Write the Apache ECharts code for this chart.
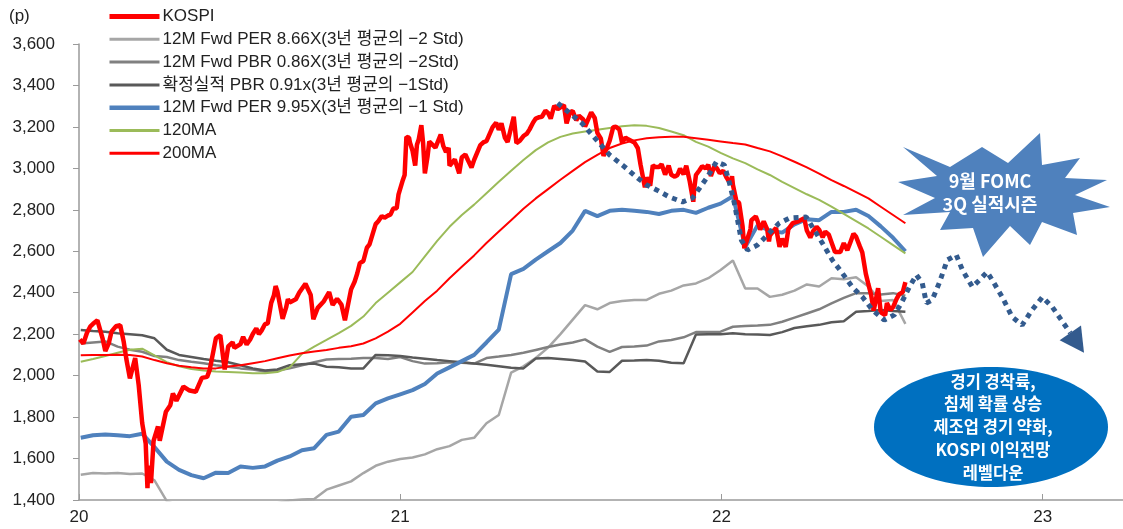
<!DOCTYPE html>
<html><head><meta charset="utf-8">
<script src="https://cdn.jsdelivr.net/npm/echarts@6/dist/echarts.min.js"></script>
<style>html,body{margin:0;padding:0;background:#fff}#c{width:1123px;height:529px}</style>
</head><body><div id="c"></div>
<script>
// ---- x-axis ticks
const xTickYears = [2020, 2021, 2022, 2023];
const xTickLabels = ['20', '21', '22', '23'];
// ---- KOSPI (dates / values)
const kospiDates = [
'2020-01-02','2020-01-06','2020-01-10','2020-01-14','2020-01-17','2020-01-22','2020-01-28','2020-01-31','2020-02-04','2020-02-07','2020-02-12','2020-02-17','2020-02-21','2020-02-24','2020-02-28','2020-03-05','2020-03-09','2020-03-13','2020-03-17','2020-03-19','2020-03-20','2020-03-23','2020-03-26','2020-03-31','2020-04-02','2020-04-09','2020-04-14','2020-04-17','2020-04-21','2020-04-29','2020-05-06','2020-05-13','2020-05-20','2020-05-26','2020-05-29','2020-06-05','2020-06-10','2020-06-15','2020-06-19','2020-06-24','2020-06-26','2020-07-03','2020-07-06','2020-07-10','2020-07-14','2020-07-17','2020-07-21','2020-07-24','2020-07-27','2020-07-31','2020-08-03','2020-08-07','2020-08-10','2020-08-12','2020-08-14','2020-08-20','2020-08-24','2020-08-26','2020-08-28','2020-09-04','2020-09-08','2020-09-15','2020-09-21','2020-09-24','2020-09-29','2020-10-06','2020-10-12','2020-10-16','2020-10-21','2020-10-23','2020-10-26','2020-10-30','2020-11-06','2020-11-10','2020-11-13','2020-11-16','2020-11-20','2020-11-24','2020-11-27','2020-12-04','2020-12-07','2020-12-11','2020-12-14','2020-12-18','2020-12-21','2020-12-24','2020-12-28','2020-12-30',
'2021-01-04','2021-01-06','2021-01-08','2021-01-11','2021-01-12','2021-01-15','2021-01-18','2021-01-20','2021-01-22','2021-01-25','2021-01-27','2021-01-29','2021-02-01','2021-02-03','2021-02-05','2021-02-10','2021-02-16','2021-02-19','2021-02-22','2021-02-25','2021-02-26','2021-03-04','2021-03-09','2021-03-12','2021-03-16','2021-03-19','2021-03-23','2021-03-26','2021-04-02','2021-04-06','2021-04-09','2021-04-16','2021-04-20','2021-04-23','2021-04-26','2021-04-30','2021-05-03','2021-05-07','2021-05-10','2021-05-13','2021-05-17','2021-05-21','2021-05-25','2021-05-28','2021-06-01','2021-06-04','2021-06-08','2021-06-11','2021-06-15','2021-06-18','2021-06-21','2021-06-25','2021-06-29','2021-07-06','2021-07-09','2021-07-13','2021-07-16','2021-07-20','2021-07-23','2021-07-28','2021-07-30','2021-08-06','2021-08-10','2021-08-13','2021-08-17','2021-08-20','2021-08-23','2021-08-27','2021-08-31','2021-09-03','2021-09-07','2021-09-10','2021-09-14','2021-09-17','2021-09-24','2021-09-28','2021-10-01','2021-10-06','2021-10-08','2021-10-12','2021-10-15','2021-10-18','2021-10-22','2021-10-25','2021-10-29','2021-11-02','2021-11-05','2021-11-09','2021-11-12','2021-11-15','2021-11-19','2021-11-22','2021-11-26','2021-11-30','2021-12-01','2021-12-03','2021-12-07','2021-12-10','2021-12-14','2021-12-17','2021-12-20','2021-12-24','2021-12-27','2021-12-30',
'2022-01-03','2022-01-07','2022-01-11','2022-01-13','2022-01-14','2022-01-18','2022-01-21','2022-01-25','2022-01-27','2022-02-03','2022-02-04','2022-02-09','2022-02-11','2022-02-14','2022-02-18','2022-02-22','2022-02-24','2022-02-25','2022-03-02','2022-03-04','2022-03-08','2022-03-11','2022-03-15','2022-03-18','2022-03-23','2022-03-25','2022-03-30','2022-04-01','2022-04-05','2022-04-08','2022-04-12','2022-04-15','2022-04-19','2022-04-22','2022-04-26','2022-04-29','2022-05-03','2022-05-06','2022-05-10','2022-05-12','2022-05-16','2022-05-20','2022-05-24','2022-05-27','2022-05-31','2022-06-03','2022-06-07','2022-06-10','2022-06-14','2022-06-17','2022-06-20','2022-06-23','2022-06-28','2022-07-01','2022-07-06','2022-07-08','2022-07-12','2022-07-15','2022-07-19','2022-07-22','2022-07-26','2022-07-29'];
const kospiValues = [
2175,2155,2206,2238,2250,2267,2177,2119,2157,2212,2238,2243,2162,2079,1987,2085,1955,1771,1672,1457,1566,1482,1686,1755,1686,1826,1857,1914,1879,1947,1928,1922,1989,1994,2029,2181,2195,2030,2141,2161,2134,2152,2187,2150,2174,2201,2228,2200,2217,2249,2251,2351,2386,2432,2407,2274,2329,2369,2353,2368,2401,2443,2389,2272,2327,2359,2403,2341,2370,2360,2343,2267,2416,2453,2493,2543,2553,2617,2633,2731,2745,2770,2762,2772,2778,2806,2808,2873,
2944,2968,3152,3148,3125,3085,3013,3114,3140,3208,3122,2976,3056,3129,3120,3100,3163,3107,3079,3099,3013,3043,2976,3054,3067,3039,3004,3041,3112,3127,3131,3199,3220,3186,3217,3147,3127,3197,3249,3122,3134,3156,3168,3188,3221,3240,3247,3249,3278,3267,3240,3302,3286,3305,3217,3271,3276,3232,3254,3236,3202,3270,3243,3171,3143,3060,3090,3133,3199,3201,3187,3125,3148,3140,3125,3097,3019,2908,2956,2916,3015,3006,3006,3020,2970,3013,2969,2960,2968,2999,2971,3013,2936,2839,2899,2968,2991,3010,3000,3017,2963,3012,2999,2977,
2988,2954,2927,2962,2921,2842,2834,2720,2614,2707,2750,2768,2747,2704,2744,2706,2648,2676,2703,2713,2622,2661,2621,2707,2736,2729,2746,2739,2759,2700,2666,2696,2718,2704,2668,2695,2680,2644,2596,2600,2596,2639,2605,2638,2685,2670,2626,2595,2492,2440,2391,2314,2422,2305,2292,2350,2317,2330,2370,2393,2403,2451];
// ---- other series on a bi-weekly date grid starting 2020-01-03
const gridStart = '2020-01-03';
const gridStepDays = 14;
const per866 = [1522,1530,1528,1530,1525,1528,1495,1395,1370,1355,1345,1340,1345,1350,1360,1370,1385,1398,1402,1405,1450,1470,1490,1530,1565,1585,1598,1605,1620,1645,1660,1690,1700,1770,1810,2015,2045,2085,2135,2200,2270,2340,2320,2350,2360,2365,2365,2395,2410,2435,2445,2470,2510,2555,2420,2420,2380,2390,2410,2440,2430,2470,2465,2475,2430,2360,2365,2250];
const pbr086 = [2155,2160,2165,2140,2125,2115,2095,2090,2075,2067,2060,2050,2043,2035,2030,2020,2025,2035,2050,2065,2078,2080,2082,2085,2085,2080,2090,2070,2058,2060,2065,2062,2058,2085,2092,2100,2110,2124,2138,2150,2160,2175,2140,2115,2138,2140,2145,2165,2172,2185,2210,2210,2212,2236,2240,2242,2245,2260,2280,2300,2320,2349,2375,2398,2398,2392,2398,2385];
const pbr091 = [2220,2215,2212,2205,2200,2195,2180,2125,2100,2090,2080,2072,2065,2050,2035,2025,2030,2050,2055,2058,2043,2040,2035,2035,2100,2098,2095,2088,2082,2075,2070,2065,2058,2052,2045,2038,2035,2083,2085,2080,2075,2068,2020,2018,2072,2073,2075,2072,2062,2060,2198,2200,2200,2204,2200,2198,2196,2210,2230,2238,2245,2258,2262,2308,2312,2317,2312,2308];
const per995 = [1700,1712,1716,1712,1708,1720,1655,1585,1545,1520,1505,1532,1530,1562,1555,1562,1590,1610,1640,1650,1714,1730,1802,1810,1866,1890,1910,1930,1960,2010,2040,2070,2100,2160,2222,2490,2515,2560,2600,2640,2700,2795,2770,2795,2800,2795,2790,2780,2795,2800,2785,2810,2830,2865,2620,2725,2700,2690,2730,2755,2750,2790,2790,2800,2770,2720,2665,2600];
const ma120 = [2067,2080,2095,2110,2125,2130,2098,2065,2045,2032,2025,2020,2018,2015,2012,2011,2017,2040,2105,2140,2172,2205,2240,2285,2350,2400,2450,2500,2575,2650,2718,2775,2825,2880,2935,2988,3040,3088,3125,3152,3168,3178,3186,3195,3203,3208,3205,3195,3178,3160,3128,3105,3075,3048,3025,2995,2968,2935,2905,2875,2848,2815,2780,2745,2710,2670,2630,2590];
const ma200 = [2098,2100,2100,2101,2100,2092,2075,2060,2048,2040,2034,2035,2044,2050,2060,2070,2084,2097,2108,2116,2124,2134,2142,2155,2180,2212,2250,2305,2360,2410,2470,2525,2580,2640,2695,2750,2805,2855,2900,2945,2988,3030,3065,3098,3120,3135,3145,3150,3152,3152,3145,3138,3130,3122,3115,3098,3082,3058,3032,3005,2975,2943,2915,2885,2855,2815,2775,2735];
// ---- hand-drawn scenario path (decimal year, level)
const pathYears = [2021.490,2021.527,2021.565,2021.611,2021.652,2021.692,2021.739,2021.767,2021.798,2021.838,2021.879,2021.910,2021.932,2021.956,2021.984,2022.009,2022.025,2022.040,2022.062,2022.081,2022.112,2022.149,2022.180,2022.211,2022.264,2022.283,2022.314,2022.345,2022.376,2022.407,2022.439,2022.470,2022.507,2022.538,2022.560,2022.585,2022.607,2022.625,2022.638,2022.656,2022.678,2022.703,2022.731,2022.750,2022.781,2022.803,2022.827,2022.843,2022.874,2022.905,2022.936,2022.967,2022.999,2023.030,2023.086];
const pathValues = [3315,3267,3219,3137,3064,3016,2953,2920,2896,2862,2838,2857,2905,2958,3031,3016,2929,2833,2654,2606,2630,2688,2736,2760,2765,2717,2640,2558,2495,2428,2379,2317,2268,2293,2350,2428,2486,2447,2350,2365,2447,2558,2582,2510,2428,2461,2500,2461,2379,2283,2244,2317,2379,2331,2206];
// ---- y ticks
const yMin = 1400, yMax = 3600, yStep = 200;

const names = ['KOSPI','12M Fwd PER 8.66X(3년 평균의 −2 Std)','12M Fwd PBR 0.86X(3년 평균의 −2Std)','확정실적 PBR 0.91x(3년 평균의 −1Std)','12M Fwd PER 9.95X(3년 평균의 −1 Std)','120MA','200MA'];
const legendWidths = [5, 3, 3, 3, 4.5, 3, 3];

function toYear(s){const [y,m,d]=s.split('-').map(Number);const t=Date.UTC(y,m-1,d),t0=Date.UTC(y,0,1),t1=Date.UTC(y+1,0,1);return y+(t-t0)/(t1-t0);}
const g0 = new Date(gridStart+'T00:00:00Z');
function gridYear(i){const dt=new Date(g0.getTime()+i*gridStepDays*86400000);return toYear(dt.toISOString().slice(0,10));}
const onGrid = arr => arr.map((v,i)=>[gridYear(i), v]);
const kospiData = kospiDates.map((d,i)=>[toYear(d), kospiValues[i]]);
const pathData = pathYears.map((y,i)=>[y, pathValues[i]]);

const FONT = "'Liberation Sans','Noto Sans CJK KR',sans-serif";
const chart = echarts.init(document.getElementById('c'));
function ln(name, data, color, width, z){return {name, type:'line', data, symbol:'none', z, lineStyle:{color, width}, itemStyle:{color}, emphasis:{disabled:true}, animation:false};}
chart.setOption({
  animation:false,
  grid:{left:79, right:0, top:44, bottom:29, containLabel:false},
  legend:{orient:'vertical', left:102, top:3, itemWidth:50, itemHeight:14, itemGap:5.8,
    data:names.map((n,i)=>({name:n, lineStyle:{width:legendWidths[i]}})), selectedMode:false, itemStyle:{opacity:0, borderWidth:0},
    textStyle:{fontSize:17, color:'#222', fontFamily:FONT, padding:[0,0,0,-2]}},
  xAxis:{type:'value', min:2020, max:2023.25, interval:1,
    axisLine:{show:true, lineStyle:{color:'#9a9a9a', width:1.5}},
    axisTick:{show:true, inside:true, length:6, lineStyle:{color:'#9a9a9a'}},
    splitLine:{show:false},
    axisLabel:{margin:9, fontSize:17, color:'#222', fontFamily:FONT,
      formatter:v=>{const k=xTickYears.indexOf(Math.round(v));return k>=0?xTickLabels[k]:'';}, showMaxLabel:false}},
  yAxis:{type:'value', min:yMin, max:yMax, interval:yStep,
    axisLine:{show:true, lineStyle:{color:'#9a9a9a', width:1.5}},
    axisTick:{show:true, length:6, lineStyle:{color:'#9a9a9a'}},
    splitLine:{show:false},
    axisLabel:{margin:24, fontSize:17, color:'#222', fontFamily:FONT,
      formatter:v=>v.toLocaleString('en-US')}},
  series:[
    ln(names[0], kospiData, '#FF0000', 4.5, 9),
    ln(names[1], onGrid(per866), '#A6A6A6', 2.5, 3),
    ln(names[2], onGrid(pbr086), '#808080', 2.5, 3),
    ln(names[3], onGrid(pbr091), '#595959', 2.5, 3),
    ln(names[4], onGrid(per995), '#4F81BD', 4, 4),
    ln(names[5], onGrid(ma120), '#9BBB59', 2, 5),
    ln(names[6], onGrid(ma200), '#FF0000', 2, 5),
    {name:'path', type:'line', data:pathData, symbol:'none', z:10, silent:true,
      lineStyle:{color:'#335B8E', width:5, type:[5,5], cap:'butt'}}
  ]
});

// decorations
const pA = chart.convertToPixel({gridIndex:0}, pathData[pathData.length-2]);
const pB = chart.convertToPixel({gridIndex:0}, pathData[pathData.length-1]);
let dx=pB[0]-pA[0], dy=pB[1]-pA[1]; const L=Math.hypot(dx,dy); dx/=L; dy/=L;
const tip=[pB[0]+dx*24, pB[1]+dy*24], w1=[pB[0]-dy*13, pB[1]+dx*13], w2=[pB[0]+dy*13, pB[1]-dx*13];
const star=[[903,147],[950,167],[982,147],[1008,163],[1040,133],[1042,165],[1080,158],[1065,178],[1107,180],[1075,195],[1110,207],[1073,213],[1077,235],[1042,222],[1030,245],[1010,226],[983,257],[973,228],[940,230],[950,212],[903,215],[935,198],[898,182],[937,176]];
const bold = {fontFamily:"'Noto Sans CJK KR',sans-serif", fontWeight:'bold', fill:'#fff', align:'center', verticalAlign:'middle'};
chart.setOption({graphic:[
  {type:'text', left:9, top:8, style:{text:'(p)', fontSize:17, fill:'#222', fontFamily:FONT}},
  {type:'polygon', shape:{points:[tip,w1,w2]}, style:{fill:'#335B8E'}, z:20},
  {type:'polygon', shape:{points:star}, style:{fill:'#4F81BD'}, z:20},
  {type:'text', x:990, y:181, style:Object.assign({text:'9월 FOMC', fontSize:18}, bold), z:21},
  {type:'text', x:990, y:204, style:Object.assign({text:'3Q 실적시즌', fontSize:18}, bold), z:21},
  {type:'ellipse', shape:{cx:991, cy:427, rx:117, ry:60}, style:{fill:'#0070C0'}, z:20},
  {type:'text', x:993, y:427, style:Object.assign({text:'경기 경착륙,\n침체 확률 상승\n제조업 경기 약화,\nKOSPI 이익전망\n레벨다운', fontSize:16.5, lineHeight:22.8}, bold), z:21}
]});
</script></body></html>
